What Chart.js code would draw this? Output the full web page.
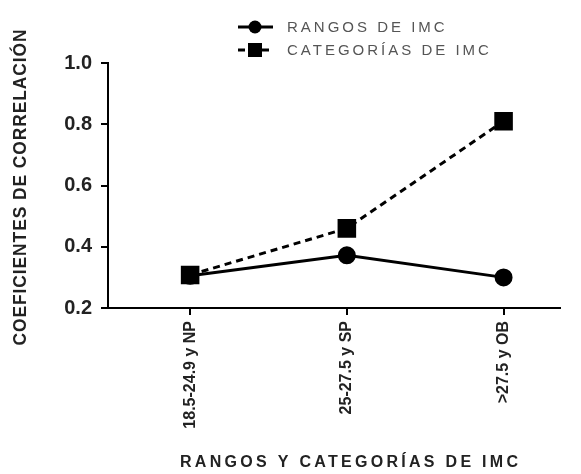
<!DOCTYPE html>
<html>
<head>
<meta charset="utf-8">
<script src="https://cdn.jsdelivr.net/npm/chart.js@4.4.1/dist/chart.umd.min.js"></script>
<style>
  html, body { margin: 0; padding: 0; background: #fff; }
  #wrap { width: 581px; height: 474px; }
</style>
</head>
<body>
<div id="wrap"><canvas id="chart" width="581" height="474"></canvas></div>
<script>
// datos
const categorias = ['18.5-24.9 y NP', '25-27.5 y SP', '>27.5 y OB'];
const rangosIMC = [0.305, 0.372, 0.300];
const categoriasIMC = [0.308, 0.460, 0.810];
const yTicks = [0.2, 0.4, 0.6, 0.8, 1.0];

const tituloY = 'COEFICIENTES DE CORRELACIÓN';
const tituloX = 'RANGOS Y CATEGORÍAS DE IMC';

// titulos y leyenda dibujados a mano (con espaciado de letras)
const textosPlugin = {
    id: 'textos',
    afterDraw(chart) {
        const ctx = chart.ctx;
        ctx.save();
        ctx.fillStyle = '#222';
        ctx.textAlign = 'center';
        ctx.textBaseline = 'middle';

        // titulo eje Y (letra estrecha: se comprime a lo largo)
        ctx.font = 'bold 18px "Liberation Sans", Arial';
        ctx.letterSpacing = '1px';
        const wY = ctx.measureText(tituloY).width;
        ctx.translate(21, 187);
        ctx.rotate(-Math.PI / 2);
        ctx.scale(317 / wY, 1);
        ctx.fillText(tituloY, 0, 0);
        ctx.setTransform(1, 0, 0, 1, 0, 0);

        // titulo eje X
        ctx.font = 'bold 16px "Liberation Sans", Arial';
        ctx.letterSpacing = '0px';
        const wX = ctx.measureText(tituloX).width;
        const ls = (338 - wX) / (tituloX.length - 1);
        ctx.letterSpacing = ls.toFixed(2) + 'px';
        ctx.fillText(tituloX, 349 + ls / 2, 463);

        // leyenda
        const filas = [27, 50];
        chart.data.datasets.forEach((ds, i) => {
            const y = filas[i];
            ctx.strokeStyle = '#000';
            ctx.lineWidth = 3;
            ctx.setLineDash(ds.borderDash || []);
            ctx.beginPath();
            ctx.moveTo(238, y);
            ctx.lineTo(273, y);
            ctx.stroke();
            ctx.setLineDash([]);
            ctx.fillStyle = '#000';
            if (ds.pointStyle === 'rect') {
                ctx.fillRect(248, y - 7, 14, 14);
            } else {
                ctx.beginPath();
                ctx.arc(255, y, 6.5, 0, Math.PI * 2);
                ctx.fill();
            }
            ctx.fillStyle = '#555';
            ctx.textAlign = 'left';
            ctx.font = '15px "Liberation Sans", Arial';
            ctx.letterSpacing = '3px';
            ctx.fillText(ds.label, 287, y + 1);
        });
        ctx.restore();
    }
};

const ctx = document.getElementById('chart').getContext('2d');
new Chart(ctx, {
    type: 'line',
    data: {
        datasets: [
            {
                label: 'RANGOS DE IMC',
                data: rangosIMC.map((v, i) => ({ x: i, y: v })),
                borderColor: '#000',
                backgroundColor: '#000',
                borderWidth: 3,
                pointStyle: 'circle',
                pointRadius: 7.5,
                pointHoverRadius: 7.5,
                tension: 0,
                order: 1
            },
            {
                label: 'CATEGORÍAS DE IMC',
                data: categoriasIMC.map((v, i) => ({ x: i, y: v })),
                borderColor: '#000',
                backgroundColor: '#000',
                borderWidth: 3,
                borderDash: [7, 5],
                pointStyle: 'rect',
                pointRadius: 11,
                pointHoverRadius: 11,
                tension: 0,
                order: 0
            }
        ]
    },
    options: {
        responsive: false,
        animation: false,
        layout: { padding: { top: 63, right: 21, left: 0, bottom: 0 } },
        plugins: { legend: { display: false }, tooltip: { enabled: false } },
        scales: {
            x: {
                type: 'linear',
                min: -0.524,
                max: 2.36,
                afterFit: (scale) => { scale.height = 166; },
                afterBuildTicks: (scale) => { scale.ticks = categorias.map((c, i) => ({ value: i })); },
                border: { display: true, color: '#000', width: 2 },
                grid: { drawOnChartArea: false, drawTicks: true, tickLength: 7, color: '#000', lineWidth: 2 },
                ticks: {
                    autoSkip: false,
                    minRotation: 90,
                    maxRotation: 90,
                    padding: 6,
                    color: '#222',
                    font: { family: '"Liberation Sans", Arial', size: 16, weight: 'bold' },
                    callback: (v) => categorias[v]
                }
            },
            y: {
                min: 0.2,
                max: 1.0,
                afterFit: (scale) => { scale.width = 108; },
                afterBuildTicks: (scale) => { scale.ticks = yTicks.map(v => ({ value: v })); },
                border: { display: true, color: '#000', width: 2 },
                grid: { drawOnChartArea: false, drawTicks: true, tickLength: 7, color: '#000', lineWidth: 2 },
                ticks: {
                    padding: 9,
                    color: '#222',
                    font: { family: '"Liberation Sans", Arial', size: 20, weight: 'bold' },
                    callback: (v) => v.toFixed(1)
                }
            }
        }
    },
    plugins: [textosPlugin]
});
</script>
</body>
</html>
